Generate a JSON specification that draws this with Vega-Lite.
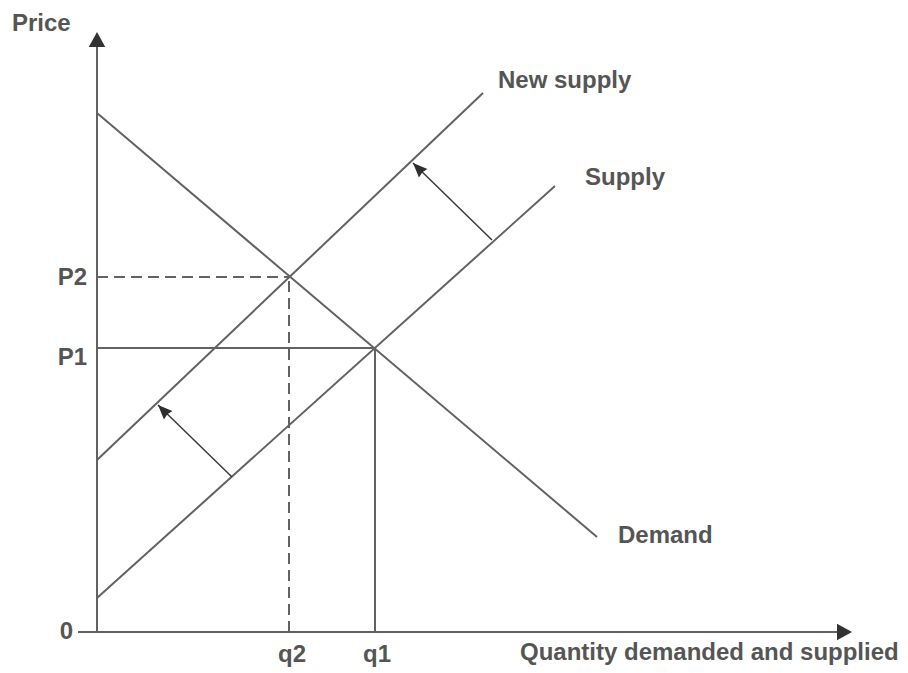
{
  "$schema": "https://vega.github.io/schema/vega-lite/v6.json",
  "width": 908,
  "height": 673,
  "autosize": {"type": "fit", "contains": "padding"},
  "padding": 0,
  "background": "white",
  "config": {"view": {"stroke": null}},
  "datasets": {
    "lines": [
      {"name": "Price axis", "x": 0, "y": 0, "x2": 0, "y2": 59.5},
      {"name": "Quantity axis", "x": -1.9, "y": 0, "x2": 75.0, "y2": 0},
      {"name": "Demand", "x": 0, "y": 51.9, "x2": 50.0, "y2": 9.5},
      {"name": "Supply", "x": 0, "y": 3.4, "x2": 45.8, "y2": 44.6},
      {"name": "New supply", "x": 0, "y": 17.2, "x2": 38.6, "y2": 53.9},
      {"name": "P1", "x": 0, "y": 28.4, "x2": 27.8, "y2": 28.4},
      {"name": "q1", "x": 27.8, "y": 0, "x2": 27.8, "y2": 28.4}
    ],
    "dashed": [
      {"name": "P2", "x": 0, "y": 35.5, "x2": 19.2, "y2": 35.5},
      {"name": "q2", "x": 19.2, "y": 0, "x2": 19.2, "y2": 35.5}
    ],
    "shifts": [
      {"name": "upper shift", "x": 39.5, "y": 39.2, "x2": 31.6, "y2": 46.9},
      {"name": "lower shift", "x": 13.5, "y": 15.5, "x2": 6.1, "y2": 22.7}
    ],
    "heads": [
      {"kind": "price axis", "x": 0, "y": 60.0},
      {"kind": "quantity axis", "x": 75.5, "y": 0},
      {"kind": "shift", "x": 31.6, "y": 46.9},
      {"kind": "shift", "x": 6.1, "y": 22.7}
    ],
    "labels": [
      {"text": "Price", "x": -8.5, "y": 60.1, "pos": "left"},
      {"text": "New supply", "x": 40.1, "y": 54.4, "pos": "left"},
      {"text": "Supply", "x": 48.8, "y": 44.7, "pos": "left"},
      {"text": "Demand", "x": 52.1, "y": 8.9, "pos": "left"},
      {"text": "Quantity demanded and supplied", "x": 42.3, "y": -2.8, "pos": "left"},
      {"text": "P2", "x": -1.0, "y": 34.7, "pos": "right"},
      {"text": "P1", "x": -1.0, "y": 26.7, "pos": "right"},
      {"text": "0", "x": -2.4, "y": -0.7, "pos": "right"},
      {"text": "q2", "x": 19.5, "y": -3.0, "pos": "center"},
      {"text": "q1", "x": 28.0, "y": -3.0, "pos": "center"}
    ]
  },
  "encoding": {
    "x": {"field": "x", "type": "quantitative", "axis": null, "scale": {"domain": [-9.7, 81.1], "nice": false, "zero": false}},
    "y": {"field": "y", "type": "quantitative", "axis": null, "scale": {"domain": [-4.1, 63.2], "nice": false, "zero": false}}
  },
  "layer": [
    {
      "data": {"name": "lines"},
      "mark": {"type": "rule", "color": "#626262", "strokeWidth": 2},
      "encoding": {"x2": {"field": "x2"}, "y2": {"field": "y2"}}
    },
    {
      "data": {"name": "dashed"},
      "mark": {"type": "rule", "color": "#626262", "strokeWidth": 2, "strokeDash": [11, 6]},
      "encoding": {"x2": {"field": "x2"}, "y2": {"field": "y2"}}
    },
    {
      "data": {"name": "shifts"},
      "mark": {"type": "rule", "color": "#3a3a3a", "strokeWidth": 1.5},
      "encoding": {"x2": {"field": "x2"}, "y2": {"field": "y2"}}
    },
    {
      "data": {"name": "heads"},
      "transform": [{"filter": "datum.kind === 'price axis'"}],
      "mark": {"type": "point", "shape": "M0,0L-0.55,1L0.55,1Z", "size": 900, "filled": true, "opacity": 1, "fill": "#333333", "strokeWidth": 0, "angle": 0}
    },
    {
      "data": {"name": "heads"},
      "transform": [{"filter": "datum.kind === 'quantity axis'"}],
      "mark": {"type": "point", "shape": "M0,0L-0.55,1L0.55,1Z", "size": 900, "filled": true, "opacity": 1, "fill": "#333333", "strokeWidth": 0, "angle": 90}
    },
    {
      "data": {"name": "heads"},
      "transform": [{"filter": "datum.kind === 'shift'"}],
      "mark": {"type": "point", "shape": "M0,0L-0.5,1.2L0,1.1L0.5,1.2Z", "size": 576, "filled": true, "opacity": 1, "fill": "#2e2e2e", "strokeWidth": 0, "angle": 315}
    },
    {
      "data": {"name": "labels"},
      "transform": [{"filter": "datum.pos === 'left'"}],
      "mark": {"type": "text", "align": "left", "baseline": "alphabetic", "font": "Liberation Sans", "fontWeight": "bold", "fontSize": 24, "color": "#555555"},
      "encoding": {"text": {"field": "text"}}
    },
    {
      "data": {"name": "labels"},
      "transform": [{"filter": "datum.pos === 'right'"}],
      "mark": {"type": "text", "align": "right", "baseline": "alphabetic", "font": "Liberation Sans", "fontWeight": "bold", "fontSize": 24, "color": "#555555"},
      "encoding": {"text": {"field": "text"}}
    },
    {
      "data": {"name": "labels"},
      "transform": [{"filter": "datum.pos === 'center'"}],
      "mark": {"type": "text", "align": "center", "baseline": "alphabetic", "font": "Liberation Sans", "fontWeight": "bold", "fontSize": 24, "color": "#555555"},
      "encoding": {"text": {"field": "text"}}
    }
  ]
}
